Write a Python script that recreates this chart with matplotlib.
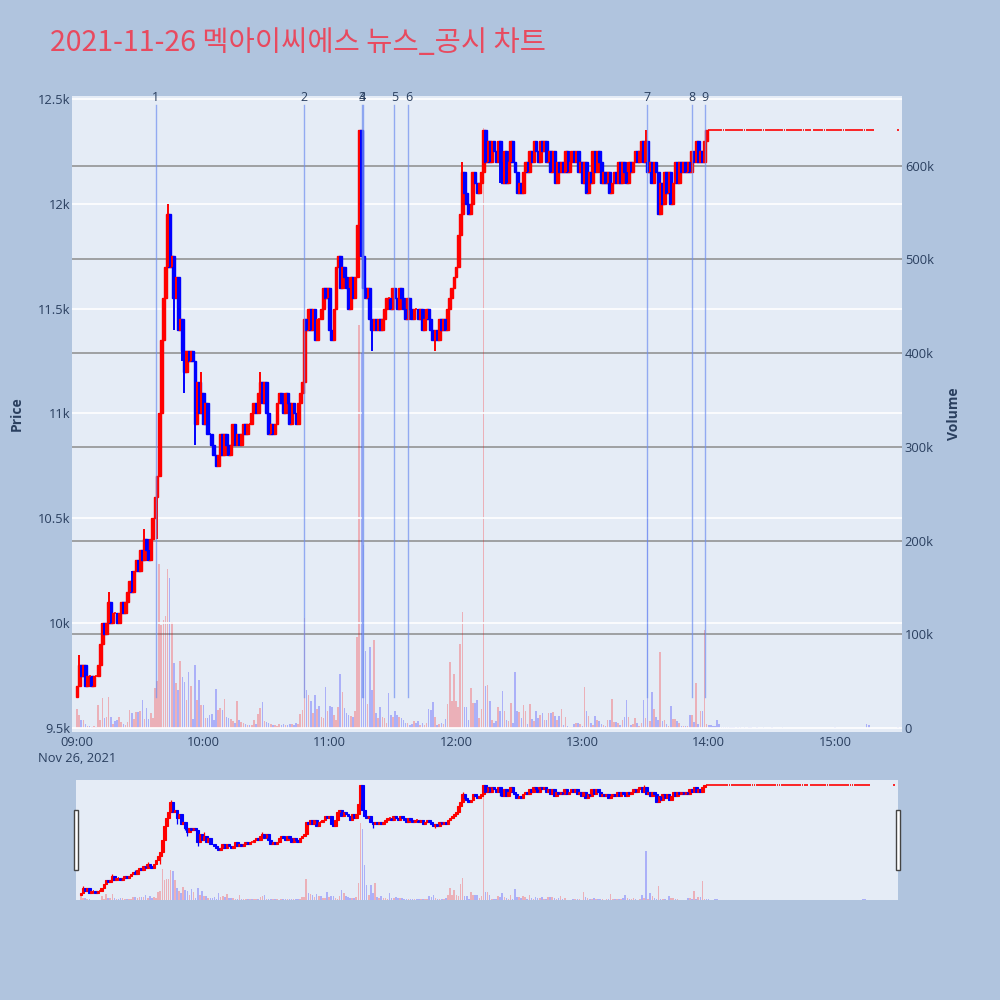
import numpy as np
import matplotlib.pyplot as plt
from matplotlib.patches import Rectangle
import matplotlib.transforms as mtransforms

plt.rcParams['font.family'] = ['Open Sans', 'Noto Sans CJK KR', 'DejaVu Sans']

# ---- data: 1-minute candles from 09:00 (minute 0) ----
first_open = 9650
close = [
    9700, 9800, 9750, 9800, 9700, 9750, 9750, 9700, 9750, 9750,
    9800, 9900, 10000, 9950, 10000, 10100, 10000, 10050, 10050, 10000,
    10050, 10100, 10050, 10100, 10150, 10200, 10150, 10250, 10300, 10250,
    10350, 10300, 10400, 10350, 10300, 10400, 10500, 10600, 10700, 11000,
    11350, 11550, 11700, 11950, 11700, 11750, 11550, 11650, 11400, 11450,
    11300, 11200, 11300, 11250, 11300, 11250, 10950, 11150, 11000, 11100,
    10950, 11050, 10900, 10900, 10850, 10800, 10750, 10800, 10900, 10800,
    10900, 10850, 10800, 10850, 10950, 10850, 10900, 10850, 10900, 10950,
    10900, 10950, 10950, 11000, 11050, 11000, 11100, 11150, 11050, 11150,
    11000, 10900, 10950, 10900, 10950, 11050, 11100, 11050, 11000, 11100,
    11050, 10950, 11050, 11000, 10950, 11050, 11100, 11150, 11450, 11400,
    11500, 11400, 11500, 11350, 11450, 11450, 11500, 11600, 11550, 11600,
    11400, 11350, 11500, 11700, 11750, 11600, 11700, 11650, 11600, 11500,
    11650, 11550, 11650, 11900, 12350, 11750, 11600, 11550, 11600, 11450,
    11400, 11450, 11400, 11450, 11400, 11450, 11500, 11550, 11550, 11500,
    11600, 11550, 11500, 11600, 11550, 11500, 11450, 11550, 11500, 11450,
    11500, 11500, 11450, 11500, 11400, 11450, 11500, 11450, 11400, 11350,
    11400, 11350, 11450, 11400, 11450, 11400, 11500, 11550, 11600, 11650,
    11700, 11850, 11950, 12150, 12050, 12000, 11950, 12000, 12150, 12100,
    12050, 12100, 12150, 12350, 12200, 12300, 12200, 12300, 12250, 12200,
    12300, 12200, 12100, 12250, 12100, 12200, 12300, 12200, 12150, 12050,
    12100, 12050, 12150, 12200, 12150, 12250, 12200, 12300, 12250, 12200,
    12300, 12250, 12300, 12200, 12250, 12150, 12250, 12100, 12200, 12150,
    12200, 12150, 12250, 12150, 12200, 12250, 12200, 12250, 12150, 12200,
    12100, 12200, 12050, 12150, 12100, 12250, 12150, 12250, 12200, 12100,
    12150, 12100, 12150, 12050, 12100, 12150, 12100, 12200, 12100, 12200,
    12150, 12100, 12200, 12150, 12200, 12250, 12200, 12250, 12300, 12200,
    12300, 12150, 12200, 12100, 12200, 12150, 11950, 12100, 12000, 12150,
    12050, 12150, 12000, 12100, 12200, 12100, 12200, 12150, 12200, 12150,
    12200, 12150, 12250, 12200, 12300, 12200, 12250, 12200, 12300, 12350,
    12350,
]
# volume in thousands, minute 0..300
volume_k = [
    20, 14, 9, 8, 4, 2, 2, 1, 2, 1,
    24, 8, 32, 11, 12, 33, 12, 4, 7, 9,
    12, 6, 4, 3, 6, 19, 16, 10, 17, 17,
    18, 30, 10, 21, 10, 16, 11, 43, 50, 175,
    110, 115, 120, 170, 160, 113, 69, 48, 40, 71,
    54, 49, 30, 60, 45, 10, 67, 30, 51, 25,
    25, 11, 11, 14, 15, 8, 42, 19, 21, 19,
    31, 12, 11, 10, 7, 5, 29, 8, 6, 5,
    4, 3, 3, 3, 8, 4, 15, 21, 28, 7,
    6, 5, 4, 3, 3, 2, 4, 3, 4, 3,
    3, 4, 4, 3, 5, 4, 15, 19, 117, 40,
    35, 29, 16, 35, 20, 23, 12, 11, 44, 18,
    23, 22, 14, 8, 22, 58, 38, 21, 16, 14,
    13, 12, 18, 97, 430, 400, 195, 82, 26, 86,
    41, 94, 16, 11, 22, 12, 11, 5, 37, 14,
    12, 18, 14, 12, 11, 8, 5, 5, 3, 4,
    7, 5, 7, 3, 5, 3, 5, 20, 19, 28,
    12, 3, 4, 5, 4, 10, 26, 70, 29, 58,
    29, 22, 90, 124, 22, 22, 8, 43, 27, 27,
    30, 11, 20, 640, 45, 46, 29, 8, 5, 7,
    22, 18, 39, 18, 9, 7, 27, 5, 60, 18,
    17, 11, 24, 18, 4, 26, 10, 7, 18, 11,
    14, 16, 8, 8, 16, 16, 17, 13, 8, 13,
    20, 3, 12, 2, 1, 1, 4, 5, 5, 4,
    2, 44, 18, 13, 5, 3, 13, 8, 7, 4,
    3, 2, 8, 8, 31, 6, 6, 5, 3, 8,
    12, 30, 12, 3, 4, 11, 5, 2, 5, 30,
    11, 275, 7, 38, 20, 12, 8, 81, 7, 8,
    4, 2, 23, 10, 10, 7, 5, 2, 2, 2,
    2, 14, 14, 6, 48, 4, 18, 18, 105, 4,
    3,
]
# wick extremes that stick out past the bodies
wick_high = {1: 9850, 15: 10150, 26: 10250, 32: 10450, 43: 12000, 59: 11200,
             87: 11200, 183: 12200, 270: 12350}
wick_low = {38: 10400, 46: 11400, 50: 11250, 51: 11100, 56: 10850, 140: 11300,
            170: 11300, 201: 12100}

# after 14:00 the price sits at 12350 (single-price ticks)
late_price = 12350
late_minutes = [m for m in range(301, 379) if m != 349] + [390]
late_volume_k = [
    3, 2, 2, 8, 4, 1, 1, 1.5, 1.5, 1.5,
    1, 1, 0.5, 1, 1, 0.5, 1, 0.5, 1, 1,
    0.5, 0.5, 1, 0.5, 0.5, 1, 0.5, 0.5, 0.5, 1,
    0.5, 0.5, 0.5, 0.5, 1, 0.5, 0.5, 0.5, 0.5, 0.5,
    0.5, 0.5, 0.5, 0.5, 0.5, 0.5, 0.5, 0.5, 0.5, 0.5,
    0.5, 0.5, 0.5, 0.5, 0.5, 0.5, 0.5, 0.5, 1, 0.5,
    0.5, 0.5, 0.5, 0.5, 0.5, 0.5, 0.5, 0.5, 0.5, 0.5,
    0.5, 0.5, 0.5, 4, 3, 0.5, 0.5,
    1,
]

# news / disclosure markers (minute after 09:00)
news_minutes = [37.3, 108, 135.3, 135.6, 150.7, 157.4, 270.6, 292, 298.2]
news_labels = ['1', '2', '3', '4', '5', '6', '7', '8', '9']

xtick_minutes = [0, 60, 120, 180, 240, 300, 360]
xtick_labels = ['09:00\nNov 26, 2021', '10:00', '11:00', '12:00', '13:00', '14:00', '15:00']
price_ticks = [9500, 10000, 10500, 11000, 11500, 12000, 12500]
price_ticklabels = ['9.5k', '10k', '10.5k', '11k', '11.5k', '12k', '12.5k']
vol_ticks = [0, 100, 200, 300, 400, 500, 600]
vol_ticklabels = ['0', '100k', '200k', '300k', '400k', '500k', '600k']

# ---- build OHLC ----
minutes = list(range(len(close))) + late_minutes
closes = close + [late_price] * len(late_minutes)
opens = [first_open] + close[:-1] + [late_price] * len(late_minutes)
vols = np.array(volume_k + late_volume_k) * 1000
highs, lows, ccol, vcol = [], [], [], []
last = 'red'
for m, o, c in zip(minutes, opens, closes):
    highs.append(wick_high.get(m, max(o, c)))
    lows.append(wick_low.get(m, min(o, c)))
    if c > o:
        last = 'red'
    elif c < o:
        last = 'blue'
    ccol.append('#ff0000' if last == 'red' else '#0000ff')
    vcol.append('#ff0000' if c > o else '#0000ff')

TXT = '#2a3f5f'
BG = '#e5ecf6'
fig = plt.figure(figsize=(10, 10), dpi=100)
fig.patch.set_facecolor('#b0c4de')


def draw(axp, axv, bw, lw, wlw):
    axv.bar(minutes, vols, width=0.75, color=vcol, alpha=0.25, linewidth=0)
    for m, o, h, l, c, col in zip(minutes, opens, highs, lows, closes, ccol):
        if o == c and h == l:
            axp.hlines(c, m - 0.45, m + 0.45, color=col, lw=1.4, alpha=0.85)
            continue
        axp.vlines(m, l, h, color=col, lw=wlw)
        axp.add_patch(Rectangle((m - bw / 2, min(o, c)), bw, abs(c - o),
                                facecolor=col, edgecolor=col, lw=lw))


# ---- main panel ----
axv = fig.add_axes([0.072, 0.268, 0.83, 0.636])
ax = axv.twinx()
ax.yaxis.set_label_position('left')
ax.yaxis.tick_left()
axv.yaxis.tick_right()
axv.set_facecolor(BG)
ax.patch.set_visible(False)

draw(ax, axv, 1.35, 1.0, 1.4)

ax.set_xlim(-2.4, 391.8)
ax.set_ylim(9481, 12514)
axv.set_ylim(-4300, 674500)

for sp in list(ax.spines.values()) + list(axv.spines.values()):
    sp.set_visible(False)

ax.set_yticks(price_ticks)
ax.set_yticklabels(price_ticklabels)
axv.set_yticks([v * 1000 for v in vol_ticks])
axv.set_yticklabels(vol_ticklabels)
axv.set_xticks(xtick_minutes)
axv.set_xticklabels(xtick_labels)
ax.tick_params(axis='both', length=0, labelsize=9.3, colors=TXT, pad=1)
axv.tick_params(axis='y', length=0, labelsize=9.3, colors=TXT, pad=2)
axv.tick_params(axis='x', length=0, labelsize=9.3, colors=TXT, pad=3)
for t in axv.get_xticklabels():
    t.set_linespacing(1.25)

for p in price_ticks:
    ax.axhline(p, color='white', lw=1.2, zorder=0)
for v in vol_ticks[1:]:
    axv.axhline(v * 1000, color='#8c8c8c', lw=1.3, alpha=0.85, zorder=0)

trans = mtransforms.blended_transform_factory(ax.transData, ax.transAxes)
for m, lab in zip(news_minutes, news_labels):
    ax.plot([m, m], [0.055, 0.986], transform=trans, color='#6f8ff0', lw=1, alpha=0.7)
    ax.text(m, 0.998, lab, transform=trans, ha='center', va='center',
            fontsize=9, color=TXT)

fig.text(0.010, 0.586, 'Price', rotation=90, ha='left', va='center',
         fontsize=10, color=TXT, fontweight='bold')
fig.text(0.947, 0.586, 'Volume', rotation=90, ha='left', va='center',
         fontsize=10, color=TXT, fontweight='bold')
fig.text(0.050, 0.957, '2021-11-26 멕아이씨에스 뉴스_공시 차트', ha='left', va='center',
         fontsize=20.5, color='#e84a5f', family=['Noto Sans CJK KR', 'DejaVu Sans'])

# ---- range slider ----
rsv = fig.add_axes([0.076, 0.10, 0.822, 0.12])
rs = rsv.twinx()
rsv.set_facecolor(BG)
rs.patch.set_visible(False)
draw(rs, rsv, 1.35, 0.8, 0.9)
rs.set_xlim(-2.4, 391.8)
rs.set_ylim(9650 - 135, 12350 + 135)
rsv.set_ylim(0, 640000 * 1.05)
for a in (rs, rsv):
    a.set_xticks([])
    a.set_yticks([])
    for sp in a.spines.values():
        sp.set_visible(False)

for hx in (0.0735, 0.8955):
    fig.patches.append(Rectangle((hx, 0.13), 0.004, 0.06, transform=fig.transFigure,
                                 facecolor='white', edgecolor='#444444', lw=1))

fig.savefig('out.png', dpi=100, facecolor=fig.get_facecolor())
